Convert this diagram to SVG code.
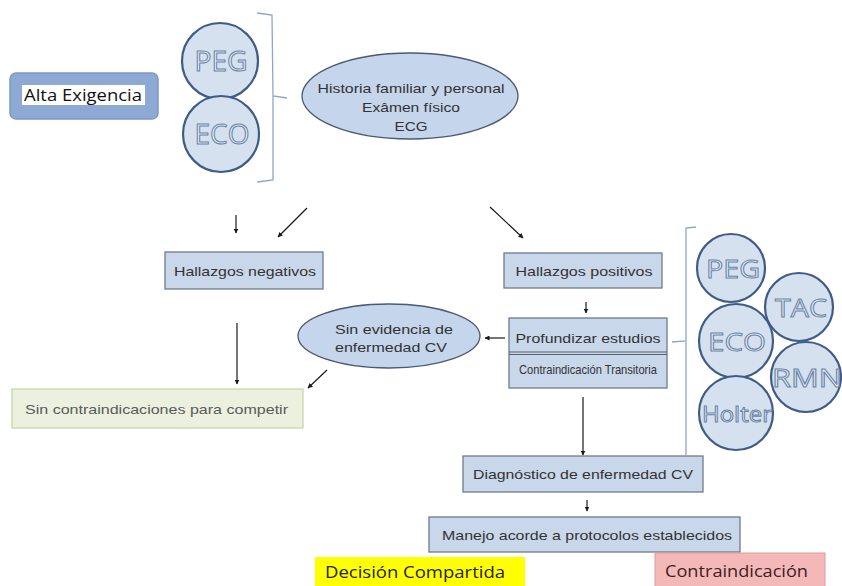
<svg xmlns="http://www.w3.org/2000/svg" width="842" height="586" viewBox="0 0 842 586">
<defs>
<marker id="ah" viewBox="0 0 10 10" refX="9" refY="5" markerWidth="5" markerHeight="5" orient="auto" markerUnits="userSpaceOnUse"><path d="M0,0 L10,5 L0,10 z" fill="#1a1a1a"/></marker>
<style>
.box{fill:#c9d7ea;stroke:#6e7b8c;stroke-width:1.3}
.ell{fill:#c5d5eb;stroke:#4a5a70;stroke-width:1.3}
.circ{fill:#d6e1f0;stroke:#3f5c86;stroke-width:2.2}
.ctext{font-family:"Open Sans","Liberation Sans",Arial,sans-serif;fill:#e8eef7;stroke:#6a84a6;stroke-width:1;text-anchor:middle}
.t{font-family:"Liberation Sans",Arial,sans-serif;fill:#333;font-size:13px;text-anchor:middle}
.c{font-family:"Open Sans","Liberation Sans",sans-serif}
.ln{stroke:#1a1a1a;stroke-width:1.2;fill:none}
.br{stroke:#8ea6c6;stroke-width:1.3;fill:none}
</style>
</defs>
<rect width="842" height="586" fill="#ffffff"/>

<g id="alta-exigencia">
<rect x="10" y="73" width="148" height="46" rx="6" fill="#8eaad4" stroke="#7c99c6" stroke-width="1.5"/>
<rect x="22" y="85" width="123" height="20" fill="#ffffff"/>
<text class="c" x="24" y="101" font-size="17" fill="#111" textLength="118" lengthAdjust="spacingAndGlyphs">Alta Exigencia</text>
</g>

<g id="peg-top">
<circle class="circ" cx="220" cy="61" r="38"/>
<text class="ctext" x="221" y="71" font-size="27" textLength="53" lengthAdjust="spacingAndGlyphs">PEG</text>
</g>
<g id="eco-top">
<circle class="circ" cx="221" cy="134" r="38"/>
<text class="ctext" x="222" y="144" font-size="27" textLength="55" lengthAdjust="spacingAndGlyphs">ECO</text>
</g>

<g id="brace-top">
<path class="br" d="M257,13 L272,15 L273,96 L287,98 M273,96 L273,180 L257,182"/>
</g>

<g id="historia">
<ellipse class="ell" cx="410" cy="96" rx="108" ry="43"/>
<text class="t" x="411" y="93" textLength="187" lengthAdjust="spacingAndGlyphs">Historia familiar y personal</text>
<text class="t" x="411" y="112" textLength="98" lengthAdjust="spacingAndGlyphs">Exâmen físico</text>
<text class="t" x="411" y="131" textLength="33" lengthAdjust="spacingAndGlyphs">ECG</text>
</g>

<g id="hallazgos-negativos">
<rect class="box" x="165" y="252" width="158" height="37"/>
<text class="t" x="245" y="276" font-size="14" textLength="142" lengthAdjust="spacingAndGlyphs">Hallazgos negativos</text>
</g>

<g id="hallazgos-positivos">
<rect class="box" x="504" y="253" width="158" height="35"/>
<text class="t" x="584" y="276" font-size="14" textLength="137" lengthAdjust="spacingAndGlyphs">Hallazgos positivos</text>
</g>

<g id="profundizar">
<rect class="box" x="509" y="318" width="158" height="70"/>
<line x1="509" y1="352" x2="667" y2="352" stroke="#55606e" stroke-width="1.2"/>
<line x1="509" y1="354.5" x2="667" y2="354.5" stroke="#55606e" stroke-width="1.2"/>
<text class="t" x="588" y="343" font-size="16" textLength="145" lengthAdjust="spacingAndGlyphs">Profundizar estudios</text>
<text class="t" x="588" y="374" font-size="8.5" textLength="138" lengthAdjust="spacingAndGlyphs">Contraindicación Transitoria</text>
</g>

<g id="sin-evidencia">
<ellipse class="ell" cx="389" cy="336" rx="91" ry="32"/>
<text class="t" x="394" y="334" font-size="14" textLength="118" lengthAdjust="spacingAndGlyphs">Sin evidencia de</text>
<text class="t" x="391" y="352" font-size="14" textLength="112" lengthAdjust="spacingAndGlyphs">enfermedad CV</text>
</g>

<g id="sin-contraindicaciones">
<rect x="12" y="389" width="291" height="39" fill="#ebf1de" stroke="#c9d8a8" stroke-width="1.3"/>
<text class="t" x="25" y="414" font-size="13" style="text-anchor:start;fill:#5a5a5a" textLength="263" lengthAdjust="spacingAndGlyphs">Sin contraindicaciones para competir</text>
</g>

<g id="brace-right">
<path class="br" d="M696,227 L686,228 L686,341 L672,342 M686,341 L686,455"/>
</g>

<g id="peg-right">
<circle class="circ" cx="731" cy="268" r="34"/>
<text class="ctext" x="733" y="278" font-size="26" textLength="54" lengthAdjust="spacingAndGlyphs">PEG</text>
</g>
<g id="tac-right">
<circle class="circ" cx="799" cy="307" r="34"/>
<text class="ctext" x="801" y="317" font-size="26" textLength="52" lengthAdjust="spacingAndGlyphs">TAC</text>
</g>
<g id="eco-right">
<circle class="circ" cx="736" cy="341" r="37"/>
<text class="ctext" x="737" y="351" font-size="26" textLength="58" lengthAdjust="spacingAndGlyphs">ECO</text>
</g>
<g id="rmn-right">
<circle class="circ" cx="806" cy="377" r="35"/>
<text class="ctext" x="807" y="387" font-size="26" textLength="70" lengthAdjust="spacingAndGlyphs">RMN</text>
</g>
<g id="holter-right">
<circle class="circ" cx="736" cy="413" r="37"/>
<text class="ctext" x="737" y="422" font-size="22" textLength="70" lengthAdjust="spacingAndGlyphs">Holter</text>
</g>

<g id="diagnostico">
<rect class="box" x="463" y="456" width="240" height="36"/>
<text class="t" x="583" y="479" font-size="13" textLength="220" lengthAdjust="spacingAndGlyphs">Diagnóstico de enfermedad CV</text>
</g>

<g id="manejo">
<rect class="box" x="429" y="517" width="311" height="35"/>
<text class="t" x="587" y="540" font-size="13" textLength="290" lengthAdjust="spacingAndGlyphs">Manejo acorde a protocolos establecidos</text>
</g>

<g id="decision-compartida">
<rect x="315" y="557" width="210" height="34" fill="#ffff00"/>
<text class="c" x="325" y="578" font-size="17" fill="#222" textLength="180" lengthAdjust="spacingAndGlyphs">Decisión Compartida</text>
</g>

<g id="contraindicacion">
<rect x="655" y="553" width="170" height="38" fill="#f5b8b8" stroke="#e29a9a" stroke-width="1"/>
<text class="c" x="665" y="577" font-size="17" fill="#3a1f1f" textLength="143" lengthAdjust="spacingAndGlyphs">Contraindicación</text>
</g>

<g id="connectors">
<line class="ln" x1="236" y1="215" x2="236" y2="233" marker-end="url(#ah)"/>
<line class="ln" x1="307" y1="208" x2="278" y2="237" marker-end="url(#ah)"/>
<line class="ln" x1="490" y1="207" x2="523" y2="238" marker-end="url(#ah)"/>
<line class="ln" x1="586" y1="302" x2="586" y2="313" marker-end="url(#ah)"/>
<line class="ln" x1="505" y1="338" x2="485" y2="338" marker-end="url(#ah)"/>
<line class="ln" x1="237" y1="323" x2="237" y2="384" marker-end="url(#ah)"/>
<line class="ln" x1="327" y1="370" x2="308" y2="388" marker-end="url(#ah)"/>
<line class="ln" x1="583" y1="397" x2="583" y2="455" marker-end="url(#ah)"/>
<line class="ln" x1="587" y1="500" x2="587" y2="511" marker-end="url(#ah)"/>
</g>
</svg>
